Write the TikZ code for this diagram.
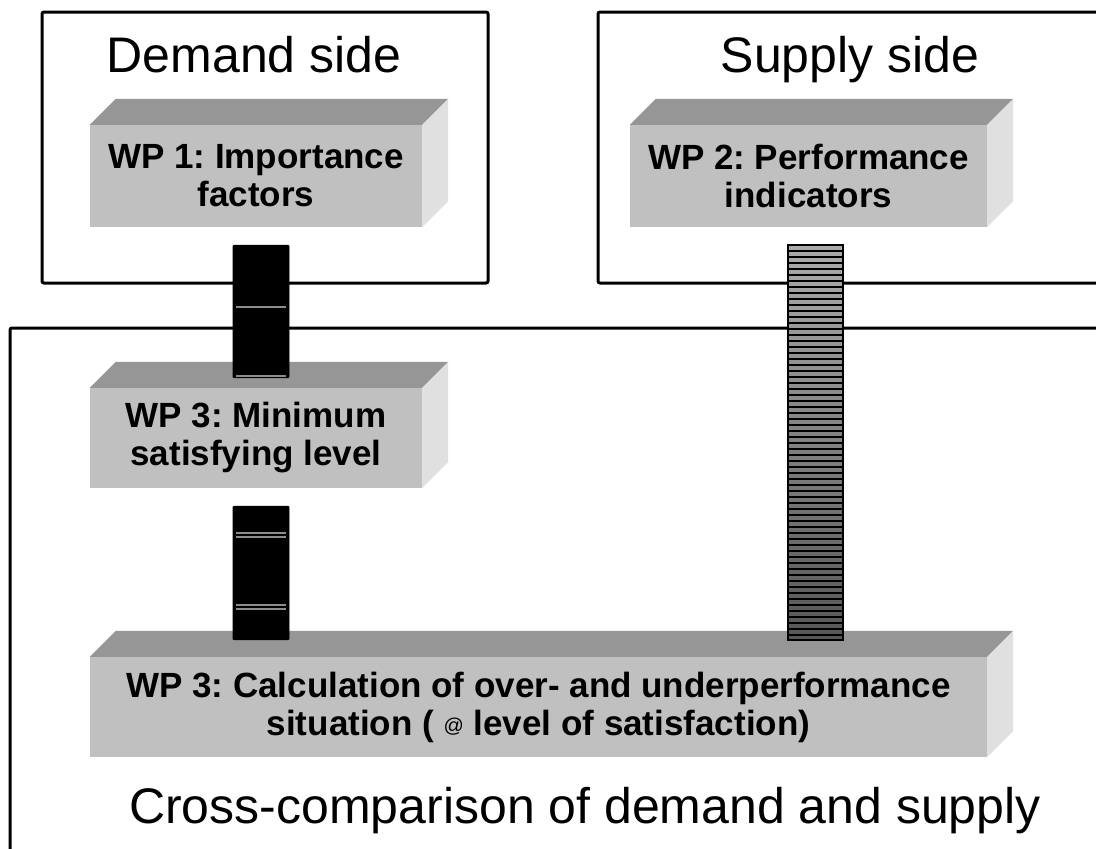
\documentclass[tikz,border=0pt]{standalone}
\usepackage{fontspec}
\setmainfont{Liberation Sans}
\usetikzlibrary{calc}
\definecolor{frontgray}{HTML}{C0C0C0}
\definecolor{topgray}{HTML}{969696}
\definecolor{sidegray}{HTML}{E0E0E0}
\newcommand{\slabdepth}{26}
\frenchspacing

\begin{document}
\begin{tikzpicture}[
	x=1pt, y=1pt,
	frame/.style={draw, line width=3pt, rounded corners=2pt},
	title/.style={anchor=base, font=\fontsize{50}{60}\selectfont},
	wp/.style={fill=frontgray, inner sep=0pt, align=center, font=\bfseries\fontsize{35}{38}\selectfont},
	pillar/.style={fill=black, draw=black, line width=0.8pt, rounded corners=1pt},
	seam/.style={draw=black!45, line width=1.4pt},
	striped/.style={top color=black!33, bottom color=black!66, draw=black, line width=1.8pt},
	stripe/.style={draw=black, line width=1.6pt}
	]
	\clip (0,0) rectangle (1096,-849);
	
	%--- frames and titles ---
	\draw[frame] (42,-12) rectangle (488,-283);
	\draw[frame] (598,-12) rectangle (1110,-283);
	\draw[frame] (10,-328) rectangle (1110,-870);
	
	\node[title] (demand) at (254,-72) {Demand side};
	\node[title] (supply) at (850,-72) {Supply side};
	\node[title] (cross) at (585,-823) {Cross-comparison of demand and supply};
	
	%--- work packages (front faces) ---
	\node[wp, minimum width=332pt, minimum height=102pt] (wp1) at (256,-176)
	{WP 1: Importance\\factors};
	\node[wp, minimum width=357pt, minimum height=102pt] (wp2) at (808.5,-176)
	{WP 2: Performance\\indicators};
	\node[wp, minimum width=332pt, minimum height=100pt] (wp3a) at (256,-438)
	{WP 3: Minimum\\satisfying level};
	\node[wp, minimum width=897pt, minimum height=100pt] (wp3b) at (538.5,-707)
	{WP 3: Calculation of over- and underperformance\\situation ( \raisebox{3pt}{\normalfont\fontsize{20}{20}\selectfont @} level of satisfaction)};
	
	%--- top and side faces ---
	\foreach \n in {wp1,wp2,wp3a,wp3b}{
		\fill[topgray] (\n.north west) -- ++(\slabdepth,\slabdepth)
		-- ($(\n.north east)+(\slabdepth,\slabdepth)$) -- (\n.north east) -- cycle;
		\fill[sidegray] (\n.north east) -- ++(\slabdepth,\slabdepth)
		-- ($(\n.south east)+(\slabdepth,\slabdepth)$) -- (\n.south east) -- cycle;
	}
	
	%--- pillars ---
	\draw[pillar] ($(wp1.south)+(-23,-18)$) rectangle ($(wp3a.north)+(33,10)$);
	\draw[seam] (236,-307) -- (286,-307);
	\draw[seam] (236,-376) -- (286,-376);
	
	\draw[pillar] ($(wp3a.south)+(-23,-18)$) rectangle ($(wp3a.south |- wp3b.north)+(33,17)$);
	\foreach \y in {533,537,605,609}
	\draw[seam] (236,-\y) -- (286,-\y);
	
	\draw[striped] ($(wp2.south)+(-20.5,-18)$) coordinate (p3)
	rectangle ($(wp2.south |- wp3b.north)+(34.5,17)$);
	\foreach \k in {1,...,65}
	\draw[stripe] ($(p3)+(0,-6*\k)$) -- ++(55,0);
	
\end{tikzpicture}
\end{document}
